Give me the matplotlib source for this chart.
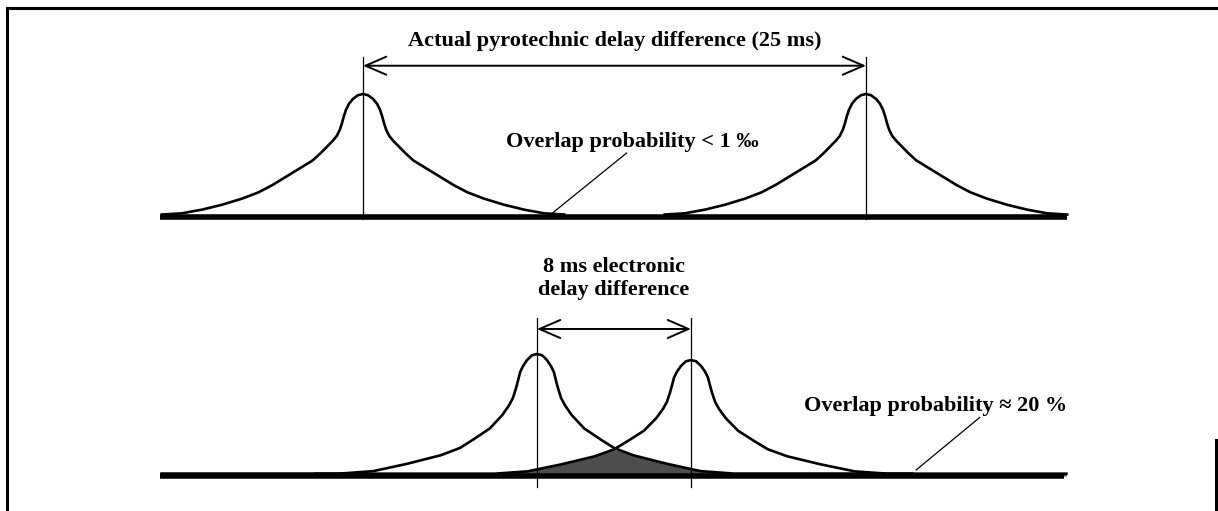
import numpy as np
import matplotlib
matplotlib.use('Agg')
import matplotlib.pyplot as plt
from matplotlib.lines import Line2D

plt.rcParams['font.family'] = ['Liberation Serif', 'DejaVu Serif']

W, H, DPI = 1218, 511, 100

# shape of one delay distribution: offset from nominal delay (ms) and relative height,
# read off the drawing (top and bottom sketches differ slightly)
TOP_DX = [0, 0.25, 0.5, 0.7, 0.85, 0.95, 1.05, 1.15, 1.3, 1.5, 1.8, 2.1, 2.5,
          3.0, 3.5, 4.0, 4.5, 5.2, 6.0, 7.0, 8.0, 9.0, 10.0]
TOP_H = [1.00, 0.99, 0.96, 0.92, 0.87, 0.82, 0.76, 0.71, 0.66, 0.62, 0.57, 0.52, 0.46,
         0.41, 0.36, 0.31, 0.26, 0.20, 0.15, 0.10, 0.06, 0.03, 0.02]
BOT_DX = [0, 0.26, 0.52, 0.73, 0.88, 0.99, 1.09, 1.25, 1.45, 1.8, 2.45, 3.3, 4.0,
          5.0, 6.0, 6.75, 8.5, 10.2, 11.2, 19.5]
BOT_H = [1.00, 0.99, 0.95, 0.90, 0.85, 0.78, 0.72, 0.64, 0.58, 0.50, 0.39, 0.30, 0.23,
         0.17, 0.13, 0.10, 0.04, 0.02, 0.02, 0.02]

TOP_DELAYS = [0, 25]     # pyrotechnic delays (ms)
TOP_PEAKS = [1.0, 1.0]
TOP_RANGE = [-10.1, 35.0]
BOT_DELAYS = [0, 8]      # electronic delays (ms)
BOT_PEAKS = [1.0, 0.95]
BOT_RANGE = [-19.6, 27.4]

TOP_LABEL = "Actual pyrotechnic delay difference (25 ms)"
TOP_NOTE = "Overlap probability < 1 \u2030"
BOT_LABEL = "8 ms electronic\ndelay difference"
BOT_NOTE = "Overlap probability \u2248 20 %"

TXT = dict(fontsize=16, fontweight='bold', color='black')


def panel(fig, x0_px, base_px, px_per_ms, px_per_unit):
    ax = fig.add_axes([0, 0, 1, 1])
    ax.set_xlim(-x0_px / px_per_ms, (W - x0_px) / px_per_ms)
    ax.set_ylim((base_px - H) / px_per_unit, base_px / px_per_unit)
    ax.axis('off')
    ax.patch.set_alpha(0)
    return ax


def curve(dx, h, center, peak):
    dx = np.asarray(dx, float)
    h = np.asarray(h, float)
    x = np.concatenate([center - dx[::-1], center + dx[1:]])
    y = peak * np.concatenate([h[::-1], h[1:]])
    return x, y


def draw_panel(ax, dx, h, delays, peaks, xr, arrow_y, vtop, vbot, shade=False):
    ax.plot(xr, [0, 0], color='black', lw=4.0, solid_capstyle='butt', zorder=3)
    curves = []
    for d, p in zip(delays, peaks):
        x, y = curve(dx, h, d, p)
        curves.append((x, y))
        ax.plot(x, y, color='black', lw=1.9, zorder=4, solid_joinstyle='round')
        ax.plot([d, d], [vbot, vtop], color='black', lw=0.9, zorder=4)
    if shade:
        # overlap area = below both drawn curves
        (x1, y1), (x2, y2) = curves
        xs = np.union1d(x1, x2)
        low = np.minimum(np.interp(xs, x1, y1), np.interp(xs, x2, y2))
        ax.fill_between(xs, 0, low, color='0.3', lw=0, zorder=2)
    ax.annotate('', xy=(delays[1], arrow_y), xytext=(delays[0], arrow_y),
                arrowprops=dict(arrowstyle='<->,head_length=1.5,head_width=0.65',
                                lw=1.4, color='black', shrinkA=0, shrinkB=0),
                zorder=5)


fig = plt.figure(figsize=(W / DPI, H / DPI), dpi=DPI)

top = panel(fig, 363, 217, 20.12, 123)
draw_panel(top, TOP_DX, TOP_H, TOP_DELAYS, TOP_PEAKS, TOP_RANGE,
           arrow_y=1.23, vtop=1.30, vbot=-0.02)
top.text(np.mean(TOP_DELAYS), 1.43, TOP_LABEL, ha='center', va='center', **TXT)
top.text(13.4, 0.61, TOP_NOTE, ha='center', va='center', **TXT)
top.plot([13.1, 9.4], [0.52, 0.03], color='black', lw=0.9)

bot = panel(fig, 537, 476, 19.25, 122)
draw_panel(bot, BOT_DX, BOT_H, BOT_DELAYS, BOT_PEAKS, BOT_RANGE,
           arrow_y=1.205, vtop=1.295, vbot=-0.09, shade=True)
bot.text(np.mean(BOT_DELAYS), 1.62, BOT_LABEL, ha='center', va='center',
         linespacing=1.2, **TXT)
bot.text(20.7, 0.574, BOT_NOTE, ha='center', va='center', **TXT)
bot.plot([23.0, 19.7], [0.48, 0.05], color='black', lw=0.9)

# scanned page frame
for xs, ys in [([7, W], [8, 8]), ([7, 7], [8, H]), ([1216, 1216], [440, H])]:
    fig.add_artist(Line2D([v / W for v in xs], [1 - v / H for v in ys],
                          transform=fig.transFigure, color='black', lw=2.2))

fig.savefig('out.png', dpi=DPI)
